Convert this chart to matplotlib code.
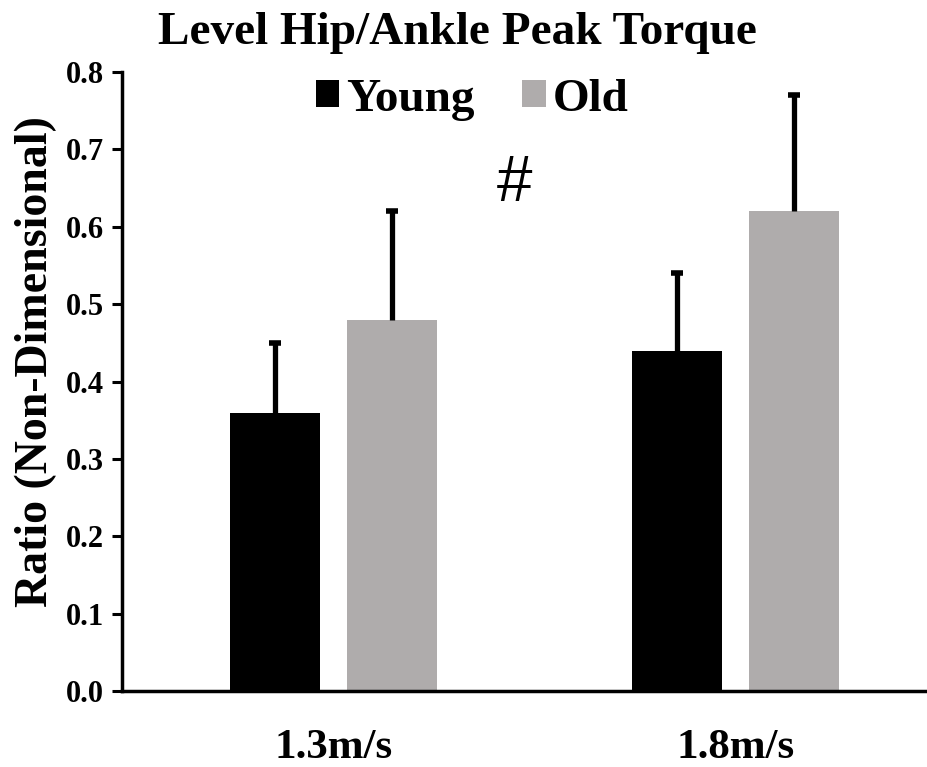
import numpy as np
import matplotlib
matplotlib.use("Agg")
import matplotlib.pyplot as plt

# Data
speeds = ["1.3m/s", "1.8m/s"]
young_mean = [0.36, 0.44]
young_sd = [0.09, 0.10]
old_mean = [0.48, 0.62]
old_sd = [0.14, 0.15]
yticks = [0.0, 0.1, 0.2, 0.3, 0.4, 0.5, 0.6, 0.7, 0.8]

plt.rcParams["font.family"] = ["Liberation Serif", "DejaVu Serif"]
plt.rcParams["font.weight"] = "bold"

fig = plt.figure(figsize=(9.28, 7.67), dpi=100)
ax = fig.add_axes([0.1315, 0.099, 0.8685, 0.807])

x = np.arange(len(speeds))
w = 0.224
off = 0.145

ax.bar(x - off, young_mean, w, color="black", label="Young")
ax.bar(x + off, old_mean, w, color="#AFACAC", label="Old")

# upper-only error bars, cap drawn just at the top
for xs, m, sd in [(x - off, young_mean, young_sd), (x + off, old_mean, old_sd)]:
    eb = ax.errorbar(xs, m, yerr=[np.zeros(len(xs)), sd], fmt="none", ecolor="black",
                     elinewidth=3.8, capsize=4.5, capthick=4)
    for cap in eb[1]:
        if np.allclose(cap.get_ydata(), m):
            cap.set_visible(False)

ax.set_xlim(-0.526, 1.479)
ax.set_ylim(0, 0.8)
ax.set_yticks(yticks)
ax.set_yticklabels([f"{v:.1f}" for v in yticks], fontsize=22, fontweight="bold")
ax.set_xticks(x)
ax.set_xticklabels(speeds, fontsize=31, fontweight="bold")
ax.tick_params(axis="x", length=0, pad=27)
ax.tick_params(axis="y", direction="out", length=7, width=2.2, pad=6)

for s in ["top", "right"]:
    ax.spines[s].set_visible(False)
for s in ["left", "bottom"]:
    ax.spines[s].set_linewidth(2.5)

ax.set_ylabel("Ratio (Non-Dimensional)", fontsize=33, fontweight="bold")
ax.yaxis.set_label_coords(-0.081, 0.533)

ax.text(0.449, 0.656, "#", fontsize=46, fontweight="normal", style="italic",
        family="Liberation Sans", ha="center", va="center")

fig.legend(*ax.get_legend_handles_labels(), loc="center", bbox_to_anchor=(0.509, 0.87),
           ncol=2, frameon=False, fontsize=34, handlelength=0.5, handleheight=0.5,
           handletextpad=0.15, columnspacing=1.0, borderaxespad=0)

fig.suptitle("Level Hip/Ankle Peak Torque", fontsize=34, fontweight="bold", x=0.493, y=0.985)

fig.savefig("out.png", dpi=100)
